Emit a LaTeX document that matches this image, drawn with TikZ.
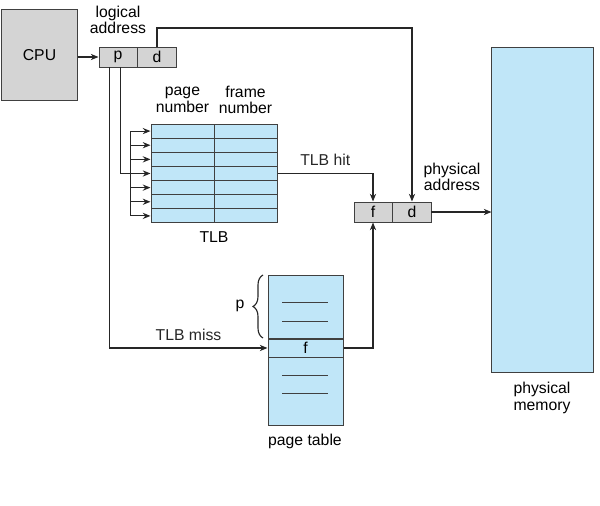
\documentclass[tikz,border=0pt]{standalone}
\usepackage{fontspec}
\setmainfont{Liberation Sans}
\usetikzlibrary{arrows.meta, positioning, decorations.pathreplacing}
\definecolor{memblue}{RGB}{192,230,248}
\definecolor{regray}{RGB}{212,212,212}
\begin{document}
\begin{tikzpicture}[
  x=0.025cm, y=-0.025cm,
  every node/.style={font=\fontsize{11.2}{11.8}\selectfont, align=center, inner sep=0pt},
  cell/.style={draw=black!75, line width=0.7pt, fill=regray,
               minimum width=0.95cm, minimum height=0.5cm},
  tlbcell/.style={draw=black!75, line width=0.7pt, fill=memblue,
                  minimum width=1.575cm, minimum height=0.3536cm},
  ptbox/.style={draw=black!75, line width=0.7pt, fill=memblue,
                minimum width=1.875cm},
  arr/.style={-{Stealth[length=5.5pt, width=4.4pt]}, line width=0.8pt, black!85},
  wire/.style={line width=0.8pt, black!85}
]
  \useasboundingbox (0,0) rectangle (600,506);

  % CPU and logical address
  \node[draw=black!75, line width=0.7pt, fill=regray,
        minimum width=1.875cm, minimum height=2.25cm] (cpu) at (39.5,55) {CPU};
  \node[cell] (la-p) at (118,57) {p};
  \node[cell, right=0pt of la-p] (la-d) {d};
  \node (la-lbl) at (118,20) {logical\\address};

  % TLB
  \foreach \i in {0,...,6} {
    \node[tlbcell] (tlbp\i) at (182.5,{131.07+14.14*\i}) {};
    \node[tlbcell] (tlbf\i) at (245.5,{131.07+14.14*\i}) {};
    \coordinate (bus\i) at ([xshift=-0.5cm]tlbp\i.west);
  }
  \node (pn-lbl) at (182.5,100) {page\\number};
  \node (fn-lbl) at (245.5,100) {frame\\number};
  \node (tlb-lbl) at (214,237) {TLB};

  % physical address
  \node[cell] (fd-f) at (373,212) {f};
  \node[cell, right=0pt of fd-f] (fd-d) {d};
  \node (pa-lbl) at (452,177) {physical\\address};

  % page table
  \node[ptbox, minimum height=1.575cm] (pt-top) at (305.5,306.5) {};
  \node[ptbox, minimum height=0.45cm, below=0pt of pt-top] (pt-f) {f};
  \node[ptbox, minimum height=1.675cm, below=0pt of pt-f] (pt-bot) {};
  \foreach \y in {302,321,375,393}
    \draw[black!75, line width=0.7pt] (282,\y) -- (328,\y);
  \node (pt-lbl) at (305,441) {page table};
  \draw[wire, decorate, decoration={brace, amplitude=0.25cm}]
    (263,338) -- (263,275);
  \node (p-lbl) at (240,306) {p};

  % physical memory
  \node[draw=black!75, line width=0.7pt, fill=memblue,
        minimum width=2.525cm, minimum height=8.1cm] (mem) at (542.5,210) {};
  \node (mem-lbl) at (542,398) {physical\\memory};

  % connectors
  \draw[arr] (cpu.east |- la-p) -- (la-p.west);
  \coordinate (dtop) at (fd-d |- 0,28);
  \draw[arr] (la-d.north) |- (dtop) -- (fd-d.north);
  \draw[wire] ([xshift=0.55cm]la-p.south west) |- (bus3);
  \draw[wire] (bus0) -- (bus6);
  \foreach \i in {0,...,6}
    \draw[arr] (bus\i) -- (tlbp\i.west);
  \draw[arr] (tlbf3.east) -| (fd-f.north)
    node[pos=0.25, above=5pt] {TLB hit};
  \draw[arr] ([xshift=0.275cm]la-p.south west) |- (pt-f.west)
    node[pos=0.75, above=5pt] {TLB miss};
  \draw[arr] (pt-f.east) -| (fd-f.south);
  \draw[arr] (fd-d.east) -- (fd-d.east -| mem.west);
\end{tikzpicture}
\end{document}
